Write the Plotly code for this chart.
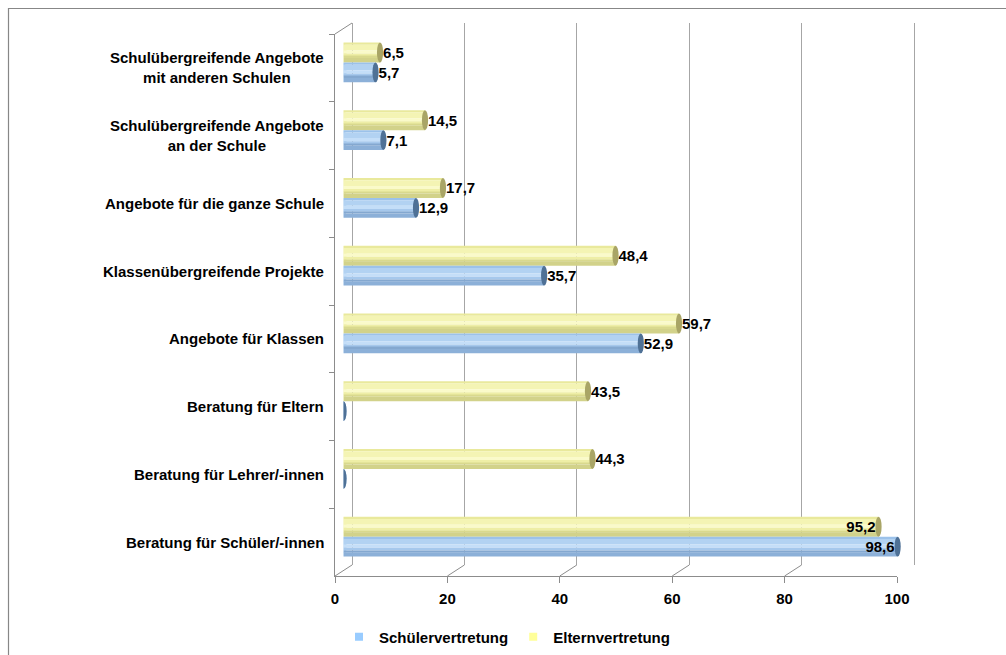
import plotly.graph_objects as go

# ---- data -------------------------------------------------------------
categories = [
    "Schulübergreifende Angebote<br>mit anderen Schulen",
    "Schulübergreifende Angebote<br>an der Schule",
    "Angebote für die ganze Schule",
    "Klassenübergreifende Projekte",
    "Angebote für Klassen",
    "Beratung für Eltern",
    "Beratung für Lehrer/-innen",
    "Beratung für Schüler/-innen",
]
eltern = [6.5, 14.5, 17.7, 48.4, 59.7, 43.5, 44.3, 95.2]
schueler = [5.7, 7.1, 12.9, 35.7, 52.9, 0.0, 0.0, 98.6]
x_ticks = [0, 20, 40, 60, 80, 100]

# ---- geometry (pixels) -----------------------------------------------
W, H = 1006, 655
FRONT_X = (335, 897)   # front edge of the floor
FRONT_Y = (34, 576)    # front edge of the left wall
DEPTH_X, DEPTH_Y = 17, 11  # 3-D depth offset of the back wall
MID_X, MID_Y = DEPTH_X / 2, DEPTH_Y / 2
PX_PER_UNIT = (FRONT_X[1] - FRONT_X[0]) / 100
GRID_PAD = 1.0      # value units added on both sides of the back wall range


def px_x(a, b):
    return [a / W, b / W]


def px_y(top, bottom):
    return [(H - bottom) / H, (H - top) / H]


FONT = "Arial, 'Liberation Sans', sans-serif"
FS = 15
AXIS_GREY = "#8c8c8c"
GRID_GREY = "#a6a6a6"

HALF = 0.295        # thickness of one cylinder in category units
CAP_W = 0.55        # half width of the end ellipse in value units

# shading bands from the top edge to the bottom edge of each cylinder
yellow_bands = [
    (0.00, 0.12, "#e9e99c"),
    (0.12, 0.40, "#f4f4b4"),
    (0.40, 0.56, "#fafaca"),
    (0.56, 0.70, "#eeeea6"),
    (0.70, 0.78, "#d9d98e"),
    (0.78, 1.00, "#d2d28a"),
]
blue_bands = [
    (0.00, 0.12, "#9cc2ea"),
    (0.12, 0.40, "#b2d2f2"),
    (0.40, 0.56, "#c4def8"),
    (0.56, 0.70, "#a6c8ec"),
    (0.70, 0.78, "#84a8d0"),
    (0.78, 1.00, "#8cb0d8"),
]
YELLOW_CAP = "#a9a566"
BLUE_CAP = "#4f7196"
YELLOW_LEGEND = "#ffff99"
BLUE_LEGEND = "#99ccff"

fig = go.Figure()

# back wall subplot carrying the vertical gridlines
fig.add_trace(go.Scatter(x=[0, 100], y=[0, 1], mode="lines", line=dict(width=0),
                         xaxis="x2", yaxis="y2", hoverinfo="skip", showlegend=False))


def add_cylinders(values, bands, top_offset):
    for f0, f1, col in bands:
        fig.add_trace(go.Bar(
            x=values, y=categories, orientation="h",
            offset=top_offset + f0 * HALF, width=(f1 - f0) * HALF,
            marker=dict(color=col, line=dict(width=0)),
            xaxis="x3", yaxis="y3", hoverinfo="skip", showlegend=False,
        ))


add_cylinders(eltern, yellow_bands, -HALF)
add_cylinders(schueler, blue_bands, 0.0)


def fmt(v):
    return "" if v == 0 else f"{v:.1f}".replace(".", ",")


def add_labels(values, top_offset):
    pos = ["outside" if v < 90 else "inside" for v in values]
    fig.add_trace(go.Bar(
        x=values, y=categories, orientation="h",
        offset=top_offset, width=HALF,
        marker=dict(color="rgba(0,0,0,0)", line=dict(width=0)),
        text=[fmt(v) for v in values], textposition=pos,
        insidetextanchor="end", constraintext="none", cliponaxis=False,
        textfont=dict(family=FONT, size=FS, color="black", weight="bold"),
        xaxis="x3", yaxis="y3", hoverinfo="skip", showlegend=False,
    ))


add_labels(eltern, -HALF)
add_labels(schueler, 0.0)

# legend entries
fig.add_trace(go.Scatter(x=[None], y=[None], mode="markers", name="Schülervertretung",
                         marker=dict(symbol="square", size=8, color=BLUE_LEGEND), legendrank=1))
fig.add_trace(go.Scatter(x=[None], y=[None], mode="markers", name="Elternvertretung",
                         marker=dict(symbol="square", size=8, color=YELLOW_LEGEND), legendrank=2))

shapes = []
# cylinder end caps (value end dark, start end in body colour)
for i, (ve, vs) in enumerate(zip(eltern, schueler)):
    for v, y0, y1, cap, body in [
        (ve, i - HALF, i, YELLOW_CAP, yellow_bands[1][2]),
        (vs, i, i + HALF, BLUE_CAP, blue_bands[1][2]),
    ]:
        shapes.append(dict(type="circle", xref="x3", yref="y3", layer="below",
                           x0=-CAP_W, x1=CAP_W, y0=y0, y1=y1,
                           fillcolor=body, line=dict(width=0)))
        shapes.append(dict(type="circle", xref="x3", yref="y3",
                           x0=v - CAP_W, x1=v + CAP_W, y0=y0, y1=y1,
                           fillcolor=cap, line=dict(width=0)))

# floor diagonals joining the front axis to the back wall
for t in x_ticks:
    shapes.append(dict(type="line", xref="x", yref="paper",
                       x0=t, x1=t + DEPTH_X / PX_PER_UNIT,
                       y0=(H - FRONT_Y[1]) / H, y1=(H - FRONT_Y[1] + DEPTH_Y) / H,
                       line=dict(color=AXIS_GREY, width=1)))
# top-left corner of the left wall
shapes.append(dict(type="line", xref="x", yref="paper",
                   x0=0, x1=DEPTH_X / PX_PER_UNIT,
                   y0=(H - FRONT_Y[0]) / H, y1=(H - FRONT_Y[0] + DEPTH_Y) / H,
                   line=dict(color=AXIS_GREY, width=1)))
# outer chart frame
shapes.append(dict(type="rect", xref="paper", yref="paper",
                   x0=8.5 / W, x1=1.05, y0=-0.05, y1=(H - 8.5) / H,
                   line=dict(color="#878787", width=1.2)))

# category labels, centred lines, right aligned to the axis
annotations = [
    dict(text=c, xref="paper", yref="y", x=326 / W, y=c, xanchor="right",
         yanchor="middle", align="center", showarrow=False,
         font=dict(family=FONT, size=FS, color="black", weight="bold"))
    for c in categories
]

pad_px = GRID_PAD * PX_PER_UNIT
fig.update_layout(
    width=W, height=H, margin=dict(l=0, r=0, t=0, b=0, autoexpand=False),
    paper_bgcolor="white", plot_bgcolor="rgba(0,0,0,0)",
    barmode="overlay", separators=", ",
    font=dict(family=FONT, size=FS, color="black"),
    xaxis=dict(domain=px_x(*FRONT_X), range=[0, 100], tickvals=x_ticks,
               ticks="outside", ticklen=6, tickcolor=AXIS_GREY, ticklabelstandoff=3,
               showline=True, linecolor=AXIS_GREY, linewidth=1,
               showgrid=False, zeroline=False, anchor="y",
               tickfont=dict(family=FONT, size=FS, color="black", weight="bold")),
    yaxis=dict(domain=px_y(*FRONT_Y), type="category", categoryarray=categories,
               categoryorder="array", range=[len(categories) - 0.5, -0.5],
               showline=True, linecolor=AXIS_GREY, ticks="outside", tickson="boundaries",
               ticklen=5, tickcolor=AXIS_GREY, showticklabels=False, showgrid=False,
               zeroline=False, anchor="x"),
    xaxis2=dict(domain=px_x(FRONT_X[0] + DEPTH_X - pad_px, FRONT_X[1] + DEPTH_X + pad_px),
                range=[-GRID_PAD, 100 + GRID_PAD], tickvals=x_ticks,
                showticklabels=False, ticks="",
                showgrid=True, gridcolor=GRID_GREY, gridwidth=1, zeroline=False,
                showline=False, anchor="y2"),
    yaxis2=dict(domain=px_y(FRONT_Y[0] - DEPTH_Y, FRONT_Y[1] - DEPTH_Y),
                range=[0, 1], showgrid=False, zeroline=False, showticklabels=False,
                ticks="", showline=False, anchor="x2"),
    xaxis3=dict(domain=px_x(FRONT_X[0] + MID_X, FRONT_X[1] + MID_X),
                range=[0, 100], visible=False, anchor="y3"),
    yaxis3=dict(domain=px_y(FRONT_Y[0] - MID_Y, FRONT_Y[1] - MID_Y),
                type="category", categoryarray=categories, categoryorder="array",
                range=[len(categories) - 0.5, -0.5], visible=False, anchor="x3"),
    shapes=shapes,
    annotations=annotations,
    showlegend=True,
    legend=dict(orientation="h", x=339 / W, xanchor="left", y=(H - 637) / H,
                yanchor="middle", font=dict(family=FONT, size=FS, color="black", weight="bold"),
                itemsizing="trace", bgcolor="rgba(0,0,0,0)"),
)

fig.write_html("out.html")
